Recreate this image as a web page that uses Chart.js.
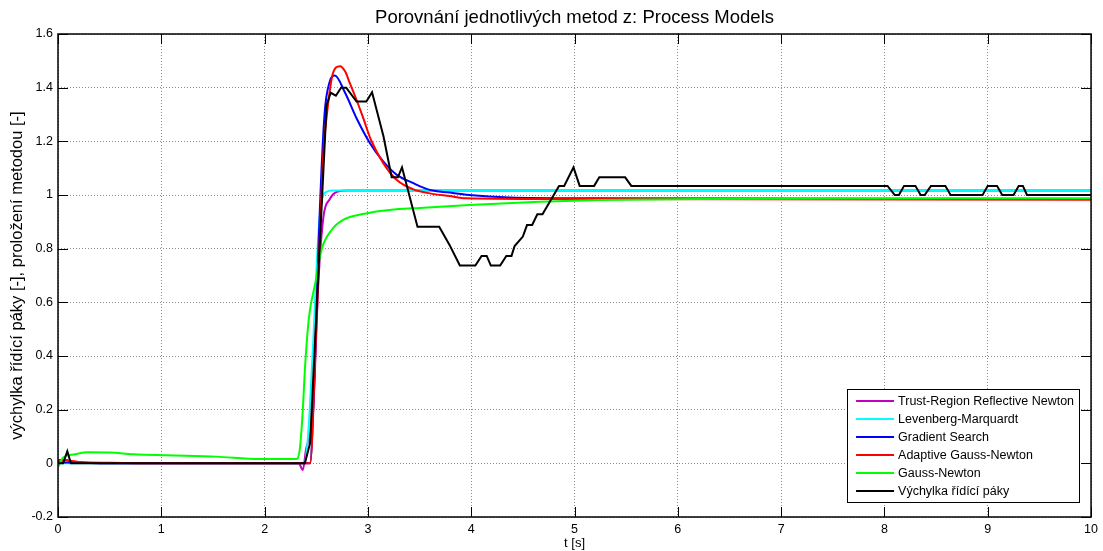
<!DOCTYPE html>
<html>
<head>
<meta charset="utf-8">
<script src="https://cdn.jsdelivr.net/npm/chart.js@4"></script>
<style>
  html, body { margin: 0; padding: 0; background: #fff; }
  #wrap { width: 1103px; height: 551px; }
</style>
</head>
<body>
<div id="wrap"><canvas id="chart" width="1103" height="551"></canvas></div>
<script>
// series: time [s] and value
const tTrust = [0, 0.05, 0.2, 0.5, 2.33, 2.37, 2.40, 2.47, 2.52, 2.57, 2.63, 2.70, 2.80, 10];
const vTrust = [0.01, 0.012, 0.003, 0, 0, -0.025, 0.05, 0.2, 0.67, 0.92, 0.984, 1.012, 1.017, 1.017];

const tLM = [0, 0.1, 2.38, 2.42, 2.47, 2.52, 2.56, 2.60, 2.65, 10];
const vLM = [0, 0, 0, 0.1, 0.45, 0.85, 0.99, 1.012, 1.017, 1.017];

const tGrad = [0, 0.1, 0.5, 2.44, 2.48, 2.53, 2.58, 2.63, 2.68, 2.78, 2.89, 3.02, 3.15, 3.28, 3.44, 3.60, 3.79, 3.98, 4.37, 5.15, 10];
const vGrad = [0.005, 0.003, 0, 0, 0.3, 0.9, 1.3, 1.422, 1.445, 1.38, 1.286, 1.193, 1.124, 1.075, 1.044, 1.019, 1.009, 1.0, 0.991, 0.988, 0.985];

const tAGN = [0, 0.05, 0.2, 0.5, 1.0, 2.44, 2.50, 2.57, 2.60, 2.65, 2.69, 2.73, 2.78, 2.82, 2.89, 2.95, 3.03, 3.15, 3.28, 3.44, 3.60, 3.79, 3.95, 5.0, 10];
const vAGN = [0.012, 0.012, 0.005, 0.002, 0, 0, 0.5, 1.167, 1.29, 1.435, 1.475, 1.48, 1.46, 1.422, 1.354, 1.292, 1.205, 1.118, 1.056, 1.021, 1.006, 0.996, 0.988, 0.985, 0.982];

const tGN = [0, 0.05, 0.15, 0.29, 0.5, 0.73, 1.05, 1.53, 1.95, 2.31, 2.34, 2.37, 2.39, 2.43, 2.49, 2.55, 2.65, 2.76, 2.99, 3.21, 3.50, 3.98, 4.66, 5.24, 6.2, 10];
const vGN = [-0.015, 0.022, 0.033, 0.041, 0.04, 0.034, 0.03, 0.025, 0.016, 0.016, 0.05, 0.2, 0.35, 0.546, 0.67, 0.795, 0.87, 0.907, 0.932, 0.944, 0.952, 0.963, 0.975, 0.981, 0.985, 0.988];

const tLever = [0, 0.05, 0.09, 0.125, 2.39, 2.44, 2.60, 2.64, 2.69, 2.74, 2.79, 2.89, 2.985, 3.04, 3.15, 3.23, 3.29, 3.33, 3.48, 3.69, 3.79, 3.89, 4.04, 4.10, 4.15, 4.19, 4.28, 4.34, 4.39, 4.42, 4.50, 4.54, 4.59, 4.64, 4.69, 4.85, 4.90, 4.99, 5.05, 5.19, 5.24, 5.49, 5.55, 8.03, 8.10, 8.14, 8.19, 8.30, 8.35, 8.39, 8.45, 8.59, 8.64, 8.95, 9.00, 9.09, 9.14, 9.25, 9.30, 9.34, 9.38, 10];
const vLever = [0, 0, 0.045, 0, 0, 0.075, 1.335, 1.381, 1.37, 1.40, 1.40, 1.348, 1.348, 1.383, 1.22, 1.066, 1.066, 1.103, 0.882, 0.882, 0.814, 0.737, 0.737, 0.773, 0.773, 0.737, 0.737, 0.773, 0.773, 0.81, 0.845, 0.888, 0.888, 0.928, 0.928, 1.034, 1.034, 1.103, 1.034, 1.034, 1.066, 1.066, 1.034, 1.034, 1.0, 1.0, 1.034, 1.034, 1.0, 1.0, 1.034, 1.034, 1.0, 1.0, 1.034, 1.034, 1.0, 1.0, 1.034, 1.034, 1.0, 1.0];

const names = ['Trust-Region Reflective Newton', 'Levenberg-Marquardt', 'Gradient Search',
               'Adaptive Gauss-Newton', 'Gauss-Newton', 'Výchylka řídící páky'];
const colors = ['#bf00bf', '#00ffff', '#0000ff', '#ff0000', '#00ff00', '#000000'];
const xTicks = [0, 1, 2, 3, 4, 5, 6, 7, 8, 9, 10];
const yTicks = [-0.2, 0, 0.2, 0.4, 0.6, 0.8, 1, 1.2, 1.4, 1.6];

const FONT = "'Liberation Sans', Arial, sans-serif";

function pts(t, v) {
  return t.map((x, i) => ({ x: x, y: v[i] }));
}

const series = [[tTrust, vTrust], [tLM, vLM], [tGrad, vGrad], [tAGN, vAGN], [tGN, vGN], [tLever, vLever]];

const datasets = series.map((s, i) => ({
  label: names[i],
  data: pts(s[0], s[1]),
  borderColor: colors[i],
  backgroundColor: colors[i],
  borderWidth: 2,
  pointRadius: 0,
  tension: 0,
  cubicInterpolationMode: i < 5 ? 'monotone' : 'default',
  order: 5 - i   // later series drawn on top, as in matlab
}));

// matlab style box, inward ticks, title and legend
const matlabLook = {
  id: 'matlabLook',
  beforeDatasetsDraw(chart) {
    const { ctx, chartArea: a, scales: { x, y } } = chart;
    ctx.save();
    ctx.strokeStyle = '#000';
    ctx.lineWidth = 1;
    ctx.beginPath();
    xTicks.forEach(v => {
      const px = Math.round(x.getPixelForValue(v)) + 0.5;
      ctx.moveTo(px, a.bottom); ctx.lineTo(px, a.bottom - 10);
      ctx.moveTo(px, a.top); ctx.lineTo(px, a.top + 10);
    });
    yTicks.forEach(v => {
      const py = Math.round(y.getPixelForValue(v)) + 0.5;
      ctx.moveTo(a.left, py); ctx.lineTo(a.left + 10, py);
      ctx.moveTo(a.right, py); ctx.lineTo(a.right - 10, py);
    });
    ctx.stroke();
    ctx.restore();
  },
  afterDraw(chart) {
    const { ctx, chartArea: a } = chart;
    ctx.save();
    // frame
    ctx.strokeStyle = '#000';
    ctx.lineWidth = 1.5;
    ctx.strokeRect(a.left, a.top, a.right - a.left, a.bottom - a.top);

    // title
    ctx.fillStyle = '#000';
    ctx.font = '18.5px ' + FONT;
    ctx.textAlign = 'center';
    ctx.textBaseline = 'middle';
    ctx.fillText('Porovnání jednotlivých metod z: Process Models', (a.left + a.right) / 2, 18);

    // legend
    ctx.font = '12.5px ' + FONT;
    let maxW = 0;
    names.forEach(n => { maxW = Math.max(maxW, ctx.measureText(n).width); });
    const rowH = 18;
    const boxW = 56 + maxW;
    const boxH = rowH * names.length + 5;
    const bx = a.right - 12 - boxW;
    const by = a.bottom - 15 - boxH;
    ctx.fillStyle = '#fff';
    ctx.fillRect(bx, by, boxW, boxH);
    ctx.lineWidth = 1;
    ctx.strokeStyle = '#000';
    ctx.strokeRect(Math.round(bx) + 0.5, Math.round(by) + 0.5, Math.round(boxW), Math.round(boxH));
    ctx.textAlign = 'left';
    names.forEach((n, i) => {
      const cy = by + 12 + i * rowH;
      ctx.strokeStyle = colors[i];
      ctx.lineWidth = 2;
      ctx.beginPath();
      ctx.moveTo(bx + 9, cy); ctx.lineTo(bx + 47, cy);
      ctx.stroke();
      ctx.fillStyle = '#000';
      ctx.fillText(n, bx + 51, cy + 1);
    });
    ctx.restore();
  }
};

const ctx = document.getElementById('chart').getContext('2d');

const chart = new Chart(ctx, {
  type: 'line',
  data: { datasets: datasets },
  plugins: [matlabLook],
  options: {
    responsive: false,
    devicePixelRatio: 1,
    animation: false,
    layout: { padding: { top: 34, right: 11, left: 0, bottom: 0 } },
    plugins: {
      legend: { display: false },
      title: { display: false },
      tooltip: { enabled: false }
    },
    scales: {
      x: {
        type: 'linear',
        min: 0,
        max: 10,
        afterFit: function(scale) { scale.height = 34; },
        afterBuildTicks: function(scale) { scale.ticks = xTicks.map(v => ({ value: v })); },
        ticks: { color: '#000', font: { family: FONT, size: 12.5 }, padding: 5, maxRotation: 0 },
        grid: { color: '#8c8c8c', lineWidth: 1, drawTicks: false },
        border: { display: false, dash: [1, 2] },
        title: { display: true, text: 't [s]', color: '#000', font: { family: FONT, size: 13 }, padding: { top: 0, bottom: 0 } }
      },
      y: {
        min: -0.2,
        max: 1.6,
        afterFit: function(scale) { scale.width = 58; },
        afterBuildTicks: function(scale) { scale.ticks = yTicks.map(v => ({ value: v })); },
        ticks: {
          color: '#000', font: { family: FONT, size: 12.5 }, padding: 5,
          callback: function(value) { return String(Math.round(value * 10) / 10); }
        },
        grid: { color: '#8c8c8c', lineWidth: 1, drawTicks: false },
        border: { display: false, dash: [1, 2] },
        title: { display: true, text: 'výchylka řídící páky [-], proložení metodou [-]', color: '#000', font: { family: FONT, size: 16.5 }, padding: { top: 8, bottom: 0 } }
      }
    }
  }
});
</script>
</body>
</html>
